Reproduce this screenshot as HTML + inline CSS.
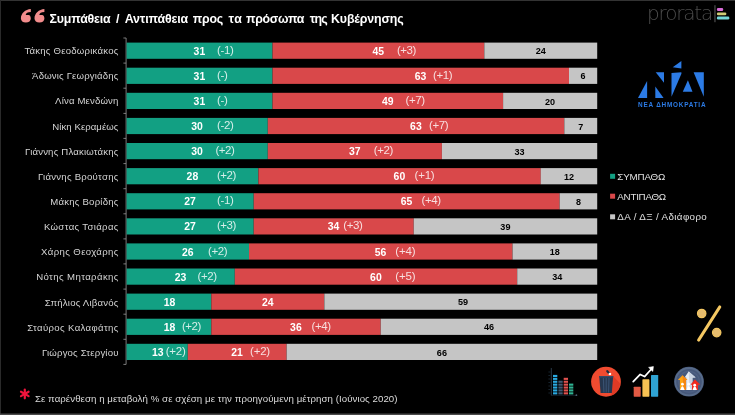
<!DOCTYPE html>
<html lang="el">
<head>
<meta charset="utf-8">
<title>Συμπάθεια / Αντιπάθεια προς τα πρόσωπα της Κυβέρνησης</title>
<style>
html,body{margin:0;padding:0;background:#000;}
body{width:735px;height:415px;overflow:hidden;}
svg{display:block;font-family:"Liberation Sans", sans-serif;}
</style>
</head>
<body>
<svg width="735" height="415" viewBox="0 0 735 415">
<rect width="735" height="415" fill="#000"/>
<rect x="0" y="0" width="735" height="1" fill="#333"/>
<rect x="0" y="0" width="1" height="415" fill="#2a2a2a"/>
<rect x="0" y="413.5" width="735" height="1.5" fill="#4a4a4a"/>
<g fill="#F28C8C">
<path transform="translate(0,0)" d="M30.8 9 C25.3 9.4 20.9 13.3 20.9 18.5 C20.9 20.8 22.9 22.6 25.8 22.6 C29 22.6 30.8 20.8 30.8 18.5 C30.8 16.4 30 15 28.4 14.9 L25.7 14.9 C25.9 13 27.6 12.1 30.8 12 Z"/>
<path transform="translate(13.6,0)" d="M30.8 9 C25.3 9.4 20.9 13.3 20.9 18.5 C20.9 20.8 22.9 22.6 25.8 22.6 C29 22.6 30.8 20.8 30.8 18.5 C30.8 16.4 30 15 28.4 14.9 L25.7 14.9 C25.9 13 27.6 12.1 30.8 12 Z"/>
</g>
<text y="23.2" font-size="12.4" font-weight="bold" fill="#fff"><tspan x="49.6" textLength="61.0" lengthAdjust="spacing">Συμπάθεια</tspan> <tspan x="115.9" textLength="5.9" lengthAdjust="spacing">/</tspan> <tspan x="124.7" textLength="63.5" lengthAdjust="spacing">Αντιπάθεια</tspan> <tspan x="192.8" textLength="30.5" lengthAdjust="spacing">προς</tspan> <tspan x="228.4" textLength="13.4" lengthAdjust="spacing">τα</tspan> <tspan x="245.9" textLength="58.5" lengthAdjust="spacing">πρόσωπα</tspan> <tspan x="309.7" textLength="17.9" lengthAdjust="spacing">της</tspan> <tspan x="331.0" textLength="72.7" lengthAdjust="spacing">Κυβέρνησης</tspan></text>
<g stroke="#999" stroke-width="0.8" fill="none">
<path d="M126.1 38.0 V364.4"/>
<path d="M123.4 38.0 H126.1"/>
<path d="M123.4 63.1 H126.1"/>
<path d="M123.4 88.2 H126.1"/>
<path d="M123.4 113.4 H126.1"/>
<path d="M123.4 138.4 H126.1"/>
<path d="M123.4 163.6 H126.1"/>
<path d="M123.4 188.7 H126.1"/>
<path d="M123.4 213.8 H126.1"/>
<path d="M123.4 238.9 H126.1"/>
<path d="M123.4 263.9 H126.1"/>
<path d="M123.4 289.1 H126.1"/>
<path d="M123.4 314.2 H126.1"/>
<path d="M123.4 339.3 H126.1"/>
<path d="M123.4 364.4 H126.1"/>
</g>
<rect x="126.6" y="42.6" width="145.9" height="16.2" fill="#12A083"/>
<rect x="272.5" y="42.6" width="211.8" height="16.2" fill="#D9484A"/>
<rect x="484.3" y="42.6" width="112.9" height="16.2" fill="#C5C5C5"/>
<text x="24.4" y="54.1" font-size="9.6" fill="#d4d4d4" textLength="94.0" lengthAdjust="spacing">Τάκης Θεοδωρικάκος</text>
<text x="199.4" y="54.7" font-size="11" fill="#fff" font-weight="bold" text-anchor="middle" textLength="11.6" lengthAdjust="spacingAndGlyphs">31</text>
<text x="378.3" y="54.7" font-size="11" fill="#fff" font-weight="bold" text-anchor="middle" textLength="11.6" lengthAdjust="spacingAndGlyphs">45</text>
<text x="540.7" y="54.3" font-size="9.5" fill="#000" font-weight="bold" text-anchor="middle" textLength="10.1" lengthAdjust="spacingAndGlyphs">24</text>
<text x="217.0" y="53.7" font-size="11.5" fill="#ffffff" textLength="16.9" lengthAdjust="spacing" fill-opacity="0.82">(-1)</text>
<text x="397.0" y="53.7" font-size="11.5" fill="#ffffff" textLength="19.4" lengthAdjust="spacing" fill-opacity="0.82">(+3)</text>
<rect x="126.6" y="67.7" width="145.9" height="16.2" fill="#12A083"/>
<rect x="272.5" y="67.7" width="296.5" height="16.2" fill="#D9484A"/>
<rect x="569.0" y="67.7" width="28.2" height="16.2" fill="#C5C5C5"/>
<text x="32.1" y="79.2" font-size="9.6" fill="#d4d4d4" textLength="86.3" lengthAdjust="spacing">Άδωνις Γεωργιάδης</text>
<text x="199.4" y="79.8" font-size="11" fill="#fff" font-weight="bold" text-anchor="middle" textLength="11.6" lengthAdjust="spacingAndGlyphs">31</text>
<text x="420.6" y="79.8" font-size="11" fill="#fff" font-weight="bold" text-anchor="middle" textLength="11.6" lengthAdjust="spacingAndGlyphs">63</text>
<text x="583.1" y="79.4" font-size="9.5" fill="#000" font-weight="bold" text-anchor="middle" textLength="5.0" lengthAdjust="spacingAndGlyphs">6</text>
<text x="217.0" y="78.8" font-size="11.5" fill="#ffffff" textLength="10.9" lengthAdjust="spacing" fill-opacity="0.82">(-)</text>
<text x="433.1" y="78.8" font-size="11.5" fill="#ffffff" textLength="19.6" lengthAdjust="spacing" fill-opacity="0.82">(+1)</text>
<rect x="126.6" y="92.8" width="145.9" height="16.2" fill="#12A083"/>
<rect x="272.5" y="92.8" width="230.6" height="16.2" fill="#D9484A"/>
<rect x="503.1" y="92.8" width="94.1" height="16.2" fill="#C5C5C5"/>
<text x="55.1" y="104.3" font-size="9.6" fill="#d4d4d4" textLength="63.3" lengthAdjust="spacing">Λίνα Μενδώνη</text>
<text x="199.4" y="104.9" font-size="11" fill="#fff" font-weight="bold" text-anchor="middle" textLength="11.6" lengthAdjust="spacingAndGlyphs">31</text>
<text x="387.7" y="104.9" font-size="11" fill="#fff" font-weight="bold" text-anchor="middle" textLength="11.6" lengthAdjust="spacingAndGlyphs">49</text>
<text x="550.1" y="104.5" font-size="9.5" fill="#000" font-weight="bold" text-anchor="middle" textLength="10.1" lengthAdjust="spacingAndGlyphs">20</text>
<text x="217.0" y="103.9" font-size="11.5" fill="#ffffff" textLength="10.9" lengthAdjust="spacing" fill-opacity="0.82">(-)</text>
<text x="405.6" y="103.9" font-size="11.5" fill="#ffffff" textLength="19.6" lengthAdjust="spacing" fill-opacity="0.82">(+7)</text>
<rect x="126.6" y="117.9" width="141.2" height="16.2" fill="#12A083"/>
<rect x="267.8" y="117.9" width="296.5" height="16.2" fill="#D9484A"/>
<rect x="564.3" y="117.9" width="32.9" height="16.2" fill="#C5C5C5"/>
<text x="52.3" y="129.5" font-size="9.6" fill="#d4d4d4" textLength="66.1" lengthAdjust="spacing">Νίκη Κεραμέως</text>
<text x="197.1" y="130.0" font-size="11" fill="#fff" font-weight="bold" text-anchor="middle" textLength="11.6" lengthAdjust="spacingAndGlyphs">30</text>
<text x="415.9" y="130.0" font-size="11" fill="#fff" font-weight="bold" text-anchor="middle" textLength="11.6" lengthAdjust="spacingAndGlyphs">63</text>
<text x="580.7" y="129.6" font-size="9.5" fill="#000" font-weight="bold" text-anchor="middle" textLength="5.0" lengthAdjust="spacingAndGlyphs">7</text>
<text x="217.0" y="129.0" font-size="11.5" fill="#ffffff" textLength="16.9" lengthAdjust="spacing" fill-opacity="0.82">(-2)</text>
<text x="429.1" y="129.0" font-size="11.5" fill="#ffffff" textLength="19.6" lengthAdjust="spacing" fill-opacity="0.82">(+7)</text>
<rect x="126.6" y="143.0" width="141.2" height="16.2" fill="#12A083"/>
<rect x="267.8" y="143.0" width="174.1" height="16.2" fill="#D9484A"/>
<rect x="441.9" y="143.0" width="155.3" height="16.2" fill="#C5C5C5"/>
<text x="25.1" y="154.6" font-size="9.6" fill="#d4d4d4" textLength="93.3" lengthAdjust="spacing">Γιάννης Πλακιωτάκης</text>
<text x="197.1" y="155.1" font-size="11" fill="#fff" font-weight="bold" text-anchor="middle" textLength="11.6" lengthAdjust="spacingAndGlyphs">30</text>
<text x="354.7" y="155.1" font-size="11" fill="#fff" font-weight="bold" text-anchor="middle" textLength="11.6" lengthAdjust="spacingAndGlyphs">37</text>
<text x="519.6" y="154.7" font-size="9.5" fill="#000" font-weight="bold" text-anchor="middle" textLength="10.1" lengthAdjust="spacingAndGlyphs">33</text>
<text x="215.5" y="154.1" font-size="11.5" fill="#ffffff" textLength="19.4" lengthAdjust="spacing" fill-opacity="0.82">(+2)</text>
<text x="373.7" y="154.1" font-size="11.5" fill="#ffffff" textLength="19.6" lengthAdjust="spacing" fill-opacity="0.82">(+2)</text>
<rect x="126.6" y="168.1" width="131.8" height="16.2" fill="#12A083"/>
<rect x="258.4" y="168.1" width="282.4" height="16.2" fill="#D9484A"/>
<rect x="540.7" y="168.1" width="56.5" height="16.2" fill="#C5C5C5"/>
<text x="37.9" y="179.8" font-size="9.6" fill="#d4d4d4" textLength="80.5" lengthAdjust="spacing">Γιάννης Βρούτσης</text>
<text x="192.4" y="180.2" font-size="11" fill="#fff" font-weight="bold" text-anchor="middle" textLength="11.6" lengthAdjust="spacingAndGlyphs">28</text>
<text x="399.4" y="180.2" font-size="11" fill="#fff" font-weight="bold" text-anchor="middle" textLength="11.6" lengthAdjust="spacingAndGlyphs">60</text>
<text x="569.0" y="179.8" font-size="9.5" fill="#000" font-weight="bold" text-anchor="middle" textLength="10.1" lengthAdjust="spacingAndGlyphs">12</text>
<text x="217.0" y="179.2" font-size="11.5" fill="#ffffff" textLength="19.4" lengthAdjust="spacing" fill-opacity="0.82">(+2)</text>
<text x="414.6" y="179.2" font-size="11.5" fill="#ffffff" textLength="20.1" lengthAdjust="spacing" fill-opacity="0.82">(+1)</text>
<rect x="126.6" y="193.2" width="127.1" height="16.2" fill="#12A083"/>
<rect x="253.7" y="193.2" width="305.9" height="16.2" fill="#D9484A"/>
<rect x="559.6" y="193.2" width="37.6" height="16.2" fill="#C5C5C5"/>
<text x="50.2" y="204.9" font-size="9.6" fill="#d4d4d4" textLength="68.2" lengthAdjust="spacing">Μάκης Βορίδης</text>
<text x="190.0" y="205.3" font-size="11" fill="#fff" font-weight="bold" text-anchor="middle" textLength="11.6" lengthAdjust="spacingAndGlyphs">27</text>
<text x="406.5" y="205.3" font-size="11" fill="#fff" font-weight="bold" text-anchor="middle" textLength="11.6" lengthAdjust="spacingAndGlyphs">65</text>
<text x="578.4" y="204.9" font-size="9.5" fill="#000" font-weight="bold" text-anchor="middle" textLength="5.0" lengthAdjust="spacingAndGlyphs">8</text>
<text x="217.0" y="204.3" font-size="11.5" fill="#ffffff" textLength="16.9" lengthAdjust="spacing" fill-opacity="0.82">(-1)</text>
<text x="421.6" y="204.3" font-size="11.5" fill="#ffffff" textLength="19.6" lengthAdjust="spacing" fill-opacity="0.82">(+4)</text>
<rect x="126.6" y="218.3" width="127.1" height="16.2" fill="#12A083"/>
<rect x="253.7" y="218.3" width="160.0" height="16.2" fill="#D9484A"/>
<rect x="413.7" y="218.3" width="183.5" height="16.2" fill="#C5C5C5"/>
<text x="43.9" y="230.1" font-size="9.6" fill="#d4d4d4" textLength="74.5" lengthAdjust="spacing">Κώστας Τσιάρας</text>
<text x="190.0" y="230.4" font-size="11" fill="#fff" font-weight="bold" text-anchor="middle" textLength="11.6" lengthAdjust="spacingAndGlyphs">27</text>
<text x="333.6" y="230.4" font-size="11" fill="#fff" font-weight="bold" text-anchor="middle" textLength="11.6" lengthAdjust="spacingAndGlyphs">34</text>
<text x="505.4" y="230.0" font-size="9.5" fill="#000" font-weight="bold" text-anchor="middle" textLength="10.1" lengthAdjust="spacingAndGlyphs">39</text>
<text x="217.0" y="229.4" font-size="11.5" fill="#ffffff" textLength="19.4" lengthAdjust="spacing" fill-opacity="0.82">(+3)</text>
<text x="343.2" y="229.4" font-size="11.5" fill="#ffffff" textLength="19.6" lengthAdjust="spacing" fill-opacity="0.82">(+3)</text>
<rect x="126.6" y="243.4" width="122.4" height="16.2" fill="#12A083"/>
<rect x="249.0" y="243.4" width="263.5" height="16.2" fill="#D9484A"/>
<rect x="512.5" y="243.4" width="84.7" height="16.2" fill="#C5C5C5"/>
<text x="41.1" y="255.2" font-size="9.6" fill="#d4d4d4" textLength="77.3" lengthAdjust="spacing">Χάρης Θεοχάρης</text>
<text x="187.7" y="255.5" font-size="11" fill="#fff" font-weight="bold" text-anchor="middle" textLength="11.6" lengthAdjust="spacingAndGlyphs">26</text>
<text x="380.6" y="255.5" font-size="11" fill="#fff" font-weight="bold" text-anchor="middle" textLength="11.6" lengthAdjust="spacingAndGlyphs">56</text>
<text x="554.8" y="255.1" font-size="9.5" fill="#000" font-weight="bold" text-anchor="middle" textLength="10.1" lengthAdjust="spacingAndGlyphs">18</text>
<text x="208.0" y="254.5" font-size="11.5" fill="#ffffff" textLength="19.6" lengthAdjust="spacing" fill-opacity="0.82">(+2)</text>
<text x="395.3" y="254.5" font-size="11.5" fill="#ffffff" textLength="20.3" lengthAdjust="spacing" fill-opacity="0.82">(+4)</text>
<rect x="126.6" y="268.5" width="108.2" height="16.2" fill="#12A083"/>
<rect x="234.8" y="268.5" width="282.4" height="16.2" fill="#D9484A"/>
<rect x="517.2" y="268.5" width="80.0" height="16.2" fill="#C5C5C5"/>
<text x="36.2" y="280.4" font-size="9.6" fill="#d4d4d4" textLength="82.2" lengthAdjust="spacing">Νότης Μηταράκης</text>
<text x="180.6" y="280.6" font-size="11" fill="#fff" font-weight="bold" text-anchor="middle" textLength="11.6" lengthAdjust="spacingAndGlyphs">23</text>
<text x="375.9" y="280.6" font-size="11" fill="#fff" font-weight="bold" text-anchor="middle" textLength="11.6" lengthAdjust="spacingAndGlyphs">60</text>
<text x="557.2" y="280.2" font-size="9.5" fill="#000" font-weight="bold" text-anchor="middle" textLength="10.1" lengthAdjust="spacingAndGlyphs">34</text>
<text x="197.5" y="279.6" font-size="11.5" fill="#ffffff" textLength="19.6" lengthAdjust="spacing" fill-opacity="0.82">(+2)</text>
<text x="395.3" y="279.6" font-size="11.5" fill="#ffffff" textLength="20.3" lengthAdjust="spacing" fill-opacity="0.82">(+5)</text>
<rect x="126.6" y="293.6" width="84.7" height="16.2" fill="#12A083"/>
<rect x="211.3" y="293.6" width="112.9" height="16.2" fill="#D9484A"/>
<rect x="324.3" y="293.6" width="272.9" height="16.2" fill="#C5C5C5"/>
<text x="44.8" y="305.5" font-size="9.6" fill="#d4d4d4" textLength="73.6" lengthAdjust="spacing">Σπήλιος Λιβανός</text>
<text x="169.6" y="305.7" font-size="11" fill="#fff" font-weight="bold" text-anchor="middle" textLength="11.6" lengthAdjust="spacingAndGlyphs">18</text>
<text x="267.7" y="305.7" font-size="11" fill="#fff" font-weight="bold" text-anchor="middle" textLength="11.6" lengthAdjust="spacingAndGlyphs">24</text>
<text x="463.1" y="305.3" font-size="9.5" fill="#000" font-weight="bold" text-anchor="middle" textLength="10.1" lengthAdjust="spacingAndGlyphs">59</text>
<rect x="126.6" y="318.7" width="84.7" height="16.2" fill="#12A083"/>
<rect x="211.3" y="318.7" width="169.4" height="16.2" fill="#D9484A"/>
<rect x="380.7" y="318.7" width="216.5" height="16.2" fill="#C5C5C5"/>
<text x="27.2" y="330.6" font-size="9.6" fill="#d4d4d4" textLength="91.2" lengthAdjust="spacing">Σταύρος Καλαφάτης</text>
<text x="169.6" y="330.8" font-size="11" fill="#fff" font-weight="bold" text-anchor="middle" textLength="11.6" lengthAdjust="spacingAndGlyphs">18</text>
<text x="295.9" y="330.8" font-size="11" fill="#fff" font-weight="bold" text-anchor="middle" textLength="11.6" lengthAdjust="spacingAndGlyphs">36</text>
<text x="489.0" y="330.4" font-size="9.5" fill="#000" font-weight="bold" text-anchor="middle" textLength="10.1" lengthAdjust="spacingAndGlyphs">46</text>
<text x="182.0" y="329.8" font-size="11.5" fill="#ffffff" textLength="19.3" lengthAdjust="spacing" fill-opacity="0.82">(+2)</text>
<text x="311.6" y="329.8" font-size="11.5" fill="#ffffff" textLength="19.6" lengthAdjust="spacing" fill-opacity="0.82">(+4)</text>
<rect x="126.6" y="343.8" width="61.2" height="16.2" fill="#12A083"/>
<rect x="187.8" y="343.8" width="98.8" height="16.2" fill="#D9484A"/>
<rect x="286.6" y="343.8" width="310.6" height="16.2" fill="#C5C5C5"/>
<text x="42.0" y="355.8" font-size="9.6" fill="#d4d4d4" textLength="76.4" lengthAdjust="spacing">Γιώργος Στεργίου</text>
<text x="157.8" y="355.9" font-size="11" fill="#fff" font-weight="bold" text-anchor="middle" textLength="11.6" lengthAdjust="spacingAndGlyphs">13</text>
<text x="237.1" y="355.9" font-size="11" fill="#fff" font-weight="bold" text-anchor="middle" textLength="11.6" lengthAdjust="spacingAndGlyphs">21</text>
<text x="441.9" y="355.5" font-size="9.5" fill="#000" font-weight="bold" text-anchor="middle" textLength="10.1" lengthAdjust="spacingAndGlyphs">66</text>
<text x="165.7" y="354.9" font-size="11.5" fill="#ffffff" textLength="20.1" lengthAdjust="spacing" fill-opacity="0.82">(+2)</text>
<text x="250.1" y="354.9" font-size="11.5" fill="#ffffff" textLength="20.1" lengthAdjust="spacing" fill-opacity="0.82">(+2)</text>
<text x="647.0" y="19.6" font-size="20" fill="#4c4c4c" textLength="66.3" lengthAdjust="spacing" font-family="DejaVu Sans Light, DejaVu Sans, Liberation Sans, sans-serif" font-weight="200">prorata</text>
<rect x="714.3" y="5.2" width="1.3" height="17" fill="#484848"/>
<rect x="716.9" y="8.1" width="6.3" height="2.8" rx="1.2" fill="#d96cd9"/>
<rect x="716.9" y="12.4" width="9.4" height="2.8" rx="1.2" fill="#cfcb74"/>
<rect x="716.9" y="16.6" width="12.4" height="2.8" rx="1.2" fill="#74d8d8"/>
<g fill="#2C7BE5">
<polygon points="638.0,98.0 647.1,80.9 647.1,98.0"/>
<polygon points="655.7,72.3 664.0,72.3 664.0,82.7"/>
<polygon points="655.3,86.4 663.6,98.0 655.3,98.0"/>
<polygon points="671.5,73.1 681.4,72.3 681.4,73.7 671.5,96.8"/>
<polygon points="672.7,67.2 681.4,61.0 681.4,68.6"/>
<polygon points="682.8,91.8 687.9,80.2 692.5,91.8"/>
<polygon points="693.6,72.3 703.8,72.3 703.8,96.8"/>
</g>
<text x="638.0" y="106.5" font-size="6.4" fill="#2C7BE5" font-weight="bold" textLength="67.5" lengthAdjust="spacing">ΝΕΑ ΔΗΜΟΚΡΑΤΙΑ</text>
<rect x="610.1" y="173.8" width="5" height="5" fill="#12A083"/>
<text x="617.3" y="179.8" font-size="9.8" fill="#e0e0e0" textLength="48.0" lengthAdjust="spacing">ΣΥΜΠΑΘΩ</text>
<rect x="610.1" y="193.7" width="5" height="5" fill="#D9484A"/>
<text x="617.3" y="199.7" font-size="9.8" fill="#e0e0e0" textLength="48.9" lengthAdjust="spacing">ΑΝΤΙΠΑΘΩ</text>
<rect x="610.1" y="214.3" width="5" height="5" fill="#C5C5C5"/>
<text x="617.3" y="220.3" font-size="9.8" fill="#e0e0e0" textLength="89.5" lengthAdjust="spacing">ΔΑ / ΔΞ / Αδιάφορο</text>
<g><path d="M719.8 306.9 L698.6 340.1" stroke="#F5C862" stroke-width="3" stroke-linecap="round"/>
<circle cx="701.7" cy="313.5" r="4.2" fill="#E6BC6E" stroke="#F5C862" stroke-width="1.2"/>
<circle cx="716.7" cy="332.6" r="4.2" fill="#E6BC6E" stroke="#F5C862" stroke-width="1.2"/></g>
<g>
<path d="M551.3 395.4 H577" stroke="#182632" stroke-width="0.8" fill="none"/>
<path d="M551.3 368 V395.4" stroke="#34495c" stroke-width="0.8" fill="none"/>
<circle cx="576.4" cy="395.2" r="0.9" fill="#4a5f70"/>
<path d="M548.4 372h2M548.4 375.5h2M548.4 379h2M548.4 382.5h2M548.4 386h2M548.4 389.5h2M548.4 393h2" stroke="#1c2c38" stroke-width="0.8" fill="none"/>
<rect x="553" y="392.3" width="4.3" height="2.1" fill="#2AA9E0"/>
<rect x="553" y="389.4" width="4.3" height="2.1" fill="#2AA9E0"/>
<rect x="553" y="386.5" width="4.3" height="2.1" fill="#2AA9E0"/>
<rect x="553" y="383.6" width="4.3" height="2.1" fill="#2AA9E0"/>
<rect x="553" y="380.7" width="4.3" height="2.1" fill="#2AA9E0"/>
<rect x="553" y="377.8" width="4.3" height="2.1" fill="#2AA9E0"/>
<rect x="553" y="374.9" width="4.3" height="2.1" fill="#2AA9E0"/>
<rect x="558.4" y="392.3" width="4.3" height="2.1" fill="#3f5a74"/>
<rect x="558.4" y="389.4" width="4.3" height="2.1" fill="#3f5a74"/>
<rect x="558.4" y="386.5" width="4.3" height="2.1" fill="#3f5a74"/>
<rect x="558.4" y="383.6" width="4.3" height="2.1" fill="#3f5a74"/>
<rect x="558.4" y="380.7" width="4.3" height="2.1" fill="#3f5a74"/>
<rect x="563.7" y="392.3" width="4.3" height="2.1" fill="#E2524F"/>
<rect x="563.7" y="389.4" width="4.3" height="2.1" fill="#E2524F"/>
<rect x="563.7" y="386.5" width="4.3" height="2.1" fill="#E2524F"/>
<rect x="563.7" y="383.6" width="4.3" height="2.1" fill="#E2524F"/>
<rect x="563.7" y="380.7" width="4.3" height="2.1" fill="#E2524F"/>
<rect x="563.7" y="377.8" width="4.3" height="2.1" fill="#E2524F"/>
<rect x="569" y="392.3" width="4.3" height="2.1" fill="#2FB292"/>
<rect x="569" y="389.4" width="4.3" height="2.1" fill="#2FB292"/>
<rect x="569" y="386.5" width="4.3" height="2.1" fill="#2FB292"/>
<rect x="569" y="383.6" width="4.3" height="2.1" fill="#2FB292"/>
</g>
<g><circle cx="606" cy="381.75" r="14.9" fill="#F04B30"/>
<path d="M613 376 L620.2 383.5 A14.9 14.9 0 0 1 611 395.8 L611.8 392.8 Z" fill="#D93422" opacity="0.75"/>
<path d="M599.2 375.9 H613.2 L611.8 392.9 H600.6 Z" fill="#26374F"/>
<path d="M599.2 375.9 H613.2 L613.05 377.6 H599.35 Z" fill="#334A68"/>
<path d="M603.4 378 L603.9 392.4 M606.2 378 V392.4 M609 378 L608.5 392.4" stroke="#3A5272" stroke-width="1.1" fill="none"/>
<path d="M607.3 371.2 L609.2 373.4" stroke="#1E2C40" stroke-width="2.2" stroke-linecap="round"/>
<circle cx="609.9" cy="374" r="1.35" fill="#fff"/></g>
<g>
<rect x="633.7" y="386.7" width="7" height="10" rx="0.6" fill="#E25A44"/>
<rect x="642.4" y="379.3" width="7" height="17.4" rx="0.6" fill="#F8C254"/>
<rect x="651" y="375" width="7.2" height="21.7" rx="0.6" fill="#2FA3D3"/>
<path d="M633.2 381.6 L640.2 374.4 L644.6 376.6 L651.2 369.2" stroke="#fff" stroke-width="1.7" fill="none" stroke-linecap="round" stroke-linejoin="round"/>
<path d="M648.6 367.4 L653.4 366.6 L652.8 371.4 Z" fill="#fff" stroke="#fff" stroke-width="0.6" stroke-linejoin="round"/>
</g>
<g><circle cx="689" cy="381.7" r="14.9" fill="#46587A"/>
<circle cx="689" cy="381.7" r="13.6" fill="none" stroke="#5F7390" stroke-width="1.6" opacity="0.7"/>
<circle cx="689" cy="381.7" r="10.4" fill="none" stroke="#55688A" stroke-width="1.2" opacity="0.6"/>
<path d="M688.7 371.4 L695.6 377.6 H692.4 V390 H686.2 V377.6 H684.6 Z" fill="#E9EDF3"/>
<path d="M688.7 371.4 L695.6 377.6 H692.4 V390 H689.6 Z" fill="#CBD5E3"/>
<path d="M682.5 375.3 L687.4 380 H685.9 V390 H679.9 V380 H677.9 Z" fill="#FFA412"/>
<path d="M682.5 375.3 L687.4 380 H685.9 V390 H683.6 Z" fill="#F58612"/>
<path d="M695 379.6 L700.4 384.8 H698 V390 H692 V384.8 H690.4 Z" fill="#F0281E"/>
<circle cx="682.4" cy="384.2" r="1.4" fill="#fff"/><path d="M680.2 390 q2.2 -7.6 4.4 0z" fill="#fff"/>
<circle cx="688.7" cy="384.2" r="1.4" fill="#fff"/><path d="M686.5 390 q2.2 -7.6 4.4 0z" fill="#fff"/>
<circle cx="694.7" cy="385.2" r="1.4" fill="#fff"/><path d="M692.5 390 q2.2 -7.6 4.4 0z" fill="#fff"/>
</g>
<g stroke="#F0143C" stroke-width="2.2" stroke-linecap="round">
<path d="M24.8 389.5 L24.8 398.3"/>
<path d="M21.0 391.7 L28.6 396.1"/>
<path d="M28.6 391.7 L21.0 396.1"/>
</g>
<text x="34.9" y="401.8" font-size="9.7" fill="#dcdcdc" textLength="362.6" lengthAdjust="spacing">Σε παρένθεση η μεταβολή % σε σχέση με την προηγούμενη μέτρηση (Ιούνιος 2020)</text>
</svg>
</body>
</html>
